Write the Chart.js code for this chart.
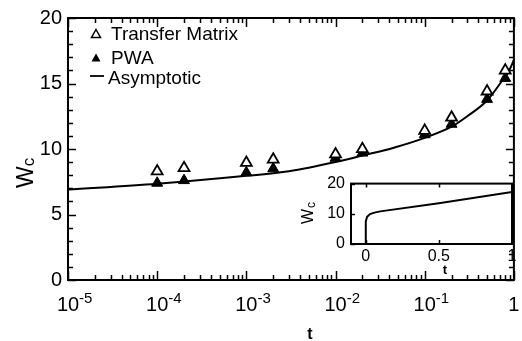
<!DOCTYPE html>
<html>
<head>
<meta charset="utf-8">
<script src="https://cdn.jsdelivr.net/npm/chart.js@4"></script>
<style>
  html, body { margin: 0; padding: 0; background: #fff; }
  #wrap { position: relative; width: 522px; height: 341px; }
  #main { position: absolute; left: 0; top: 0; }
  #inset { position: absolute; left: 296px; top: 168px; }
</style>
</head>
<body>
<div id="wrap">
  <canvas id="main" width="522" height="341"></canvas>
  <canvas id="inset" width="224" height="112"></canvas>
</div>
<script>
// valores
const tmT = [1e-4, 2e-4, 1e-3, 2e-3, 1e-2, 2e-2, 1e-1, 2e-1, 5e-1, 8e-1];
const tmW = [8.3, 8.55, 8.95, 9.2, 9.6, 10.0, 11.4, 12.4, 14.4, 16.0];
const pwaT = [1e-4, 2e-4, 1e-3, 2e-3, 1e-2, 2e-2, 1e-1, 2e-1, 5e-1, 8e-1];
const pwaW = [7.4, 7.6, 8.2, 8.5, 9.3, 9.7, 11.1, 11.9, 13.8, 15.4];
const asymT = [1e-5, 1e-4, 1e-3, 3e-3, 1e-2, 2e-2, 4.5e-2, 1e-1, 2e-1, 3e-1, 5e-1, 7e-1, 9e-1, 1];
const asymW = [6.9, 7.35, 7.95, 8.3, 9.0, 9.5, 10.1, 10.85, 11.7, 12.5, 13.7, 15.0, 16.1, 16.8];
const xDecades = [-5, -4, -3, -2, -1, 0];
const yTicks = [0, 5, 10, 15, 20];

// inset
const insetT = [0, 0.001, 0.01, 0.03, 0.06, 0.1, 0.5, 1.0];
const insetW = [0, 7.5, 9.0, 9.9, 10.4, 10.8, 13.5, 17.2];
const insetXTicks = [0, 0.5, 1];
const insetYTicks = [0, 10, 20];

const FONT = "'Liberation Sans', Arial, sans-serif";
const pts = (xs, ys) => xs.map((x, i) => ({ x: x, y: ys[i] }));

const mainDeco = {
  id: "mainDeco",
  afterDraw(chart) {
    const { ctx, chartArea: a, scales: { x, y } } = chart;
    ctx.save();
    ctx.strokeStyle = "#000";
    ctx.fillStyle = "#000";
    ctx.lineWidth = 2;
    ctx.strokeRect(a.left, a.top, a.right - a.left, a.bottom - a.top);

    // ticks do eixo x (para dentro, em baixo e em cima)
    ctx.lineWidth = 1.5;
    xDecades.forEach(d => {
      for (let m = 1; m <= 9; m++) {
        const v = m * Math.pow(10, d);
        if (v > 1.0001) break;
        const px = Math.round(x.getPixelForValue(v)) + 0.5;
        const len = m === 1 ? 9 : 5;
        ctx.beginPath();
        ctx.moveTo(px, a.bottom); ctx.lineTo(px, a.bottom - len);
        ctx.moveTo(px, a.top); ctx.lineTo(px, a.top + len);
        ctx.stroke();
      }
    });
    // ticks do eixo y
    for (let v = 0; v <= 20; v++) {
      const py = Math.round(y.getPixelForValue(v)) + 0.5;
      const len = v % 5 === 0 ? 8 : 5;
      ctx.beginPath();
      ctx.moveTo(a.left, py); ctx.lineTo(a.left + len, py);
      ctx.moveTo(a.right, py); ctx.lineTo(a.right - len, py);
      ctx.stroke();
    }

    // rótulos 10^n
    xDecades.forEach(d => {
      const px = x.getPixelForValue(Math.pow(10, d));
      ctx.font = "20px " + FONT;
      ctx.textBaseline = "alphabetic";
      if (d === 0) {
        ctx.textAlign = "center";
        ctx.fillText("1", px, 311);
        return;
      }
      const w = ctx.measureText("10").width;
      ctx.textAlign = "left";
      ctx.fillText("10", px - w / 2, 311);
      ctx.font = "15px " + FONT;
      ctx.fillText("-" + (-d), px + w / 2, 303);
    });

    // título do eixo x
    ctx.font = "bold 16px " + FONT;
    ctx.textAlign = "center";
    ctx.fillText("t", 310, 339);

    // título do eixo y: W com índice c
    ctx.save();
    ctx.translate(33, 188);
    ctx.rotate(-Math.PI / 2);
    ctx.textAlign = "left";
    ctx.font = "23px " + FONT;
    ctx.fillText("W", 0, 0);
    const ww = ctx.measureText("W").width;
    ctx.font = "17px " + FONT;
    ctx.fillText("c", ww, 1);
    ctx.restore();

    // legenda
    ctx.font = "19px " + FONT;
    ctx.textAlign = "left";
    const tri = (cx, cy, filled) => {
      ctx.beginPath();
      ctx.moveTo(cx, cy - 4.5);
      ctx.lineTo(cx + 4.5, cy + 3.5);
      ctx.lineTo(cx - 4.5, cy + 3.5);
      ctx.closePath();
      if (filled) ctx.fill();
      else { ctx.lineWidth = 1.5; ctx.stroke(); }
    };
    tri(96, 34, false);
    ctx.fillText("Transfer Matrix", 111, 40);
    tri(96, 58, true);
    ctx.fillText("PWA", 111, 64);
    ctx.lineWidth = 1.8;
    ctx.beginPath(); ctx.moveTo(90, 76); ctx.lineTo(104, 76); ctx.stroke();
    ctx.fillText("Asymptotic", 108, 84);
    ctx.restore();
  }
};

new Chart(document.getElementById("main"), {
  type: "scatter",
  data: {
    datasets: [
      {
        label: "Transfer Matrix",
        data: pts(tmT, tmW),
        pointStyle: "triangle",
        pointRadius: 6.3,
        pointBackgroundColor: "#fff",
        pointBorderColor: "#000",
        pointBorderWidth: 1.8,
        showLine: false
      },
      {
        label: "PWA",
        data: pts(pwaT, pwaW),
        pointStyle: "triangle",
        pointRadius: 6.3,
        pointBackgroundColor: "#000",
        pointBorderColor: "#000",
        pointBorderWidth: 1,
        showLine: false
      },
      {
        label: "Asymptotic",
        data: pts(asymT, asymW),
        showLine: true,
        pointRadius: 0,
        borderColor: "#000",
        borderWidth: 2,
        cubicInterpolationMode: "monotone"
      }
    ]
  },
  options: {
    responsive: false,
    animation: false,
    layout: { padding: { left: 0, top: 16, right: 3, bottom: 0 } },
    plugins: { legend: { display: false }, tooltip: { enabled: false } },
    scales: {
      x: {
        type: "logarithmic",
        min: 1e-5,
        max: 1,
        grid: { display: false, drawTicks: false, tickLength: 0 },
        border: { display: false },
        ticks: { display: false },
        afterFit: s => { s.height = 61; }
      },
      y: {
        min: 0,
        max: 20,
        afterBuildTicks: s => { s.ticks = yTicks.map(v => ({ value: v })); },
        grid: { display: false, drawTicks: false, tickLength: 0 },
        border: { display: false },
        ticks: { color: "#000", font: { family: FONT, size: 20 }, padding: 6 },
        afterFit: s => { s.width = 68; }
      }
    }
  },
  plugins: [mainDeco]
});

const insetDeco = {
  id: "insetDeco",
  beforeDatasetsDraw(chart) {
    const { ctx, chartArea: a } = chart;
    ctx.save();
    ctx.fillStyle = "#fff";
    ctx.fillRect(a.left, a.top, a.right - a.left, a.bottom - a.top);
    ctx.restore();
  },
  afterDraw(chart) {
    const { ctx, chartArea: a, scales: { x, y } } = chart;
    ctx.save();
    ctx.strokeStyle = "#000";
    ctx.fillStyle = "#000";
    ctx.lineWidth = 2;
    ctx.strokeRect(a.left, a.top, a.right - a.left, a.bottom - a.top);
    ctx.lineWidth = 1.5;
    insetXTicks.forEach(v => {
      const px = Math.round(x.getPixelForValue(v)) + 0.5;
      ctx.beginPath();
      ctx.moveTo(px, a.top); ctx.lineTo(px, a.top + 4);
      ctx.moveTo(px, a.bottom); ctx.lineTo(px, a.bottom - 4);
      ctx.stroke();
    });
    insetYTicks.forEach(v => {
      const py = Math.round(y.getPixelForValue(v)) + 0.5;
      ctx.beginPath();
      ctx.moveTo(a.left, py); ctx.lineTo(a.left + 4, py);
      ctx.stroke();
    });
    // títulos
    ctx.font = "bold 13px " + FONT;
    ctx.textAlign = "center";
    ctx.fillText("t", 445 - 296, 106);
    ctx.save();
    ctx.translate(313 - 296, 224 - 168);
    ctx.rotate(-Math.PI / 2);
    ctx.textAlign = "left";
    ctx.font = "16px " + FONT;
    ctx.fillText("W", 0, 0);
    const ww = ctx.measureText("W").width;
    ctx.font = "12px " + FONT;
    ctx.fillText("c", ww + 1, 2);
    ctx.restore();
    ctx.restore();
  }
};

new Chart(document.getElementById("inset"), {
  type: "scatter",
  data: {
    datasets: [{
      label: "inset",
      data: pts(insetT, insetW),
      showLine: true,
      pointRadius: 0,
      borderColor: "#000",
      borderWidth: 2
    }]
  },
  options: {
    responsive: false,
    animation: false,
    layout: { padding: { left: 0, top: 11, right: 8, bottom: 0 } },
    plugins: { legend: { display: false }, tooltip: { enabled: false } },
    scales: {
      x: {
        type: "linear",
        min: -0.1,
        max: 1.0,
        afterBuildTicks: s => { s.ticks = insetXTicks.map(v => ({ value: v })); },
        grid: { display: false, drawTicks: false, tickLength: 0 },
        border: { display: false },
        ticks: { color: "#000", font: { family: FONT, size: 16 }, padding: 3, maxRotation: 0,
                 callback: v => String(v) },
        afterFit: s => { s.height = 36; }
      },
      y: {
        min: 0,
        max: 20,
        afterBuildTicks: s => { s.ticks = insetYTicks.map(v => ({ value: v })); },
        grid: { display: false, drawTicks: false, tickLength: 0 },
        border: { display: false },
        ticks: { color: "#000", font: { family: FONT, size: 16 }, padding: 6 },
        afterFit: s => { s.width = 55; }
      }
    }
  },
  plugins: [insetDeco]
});
</script>
</body>
</html>
